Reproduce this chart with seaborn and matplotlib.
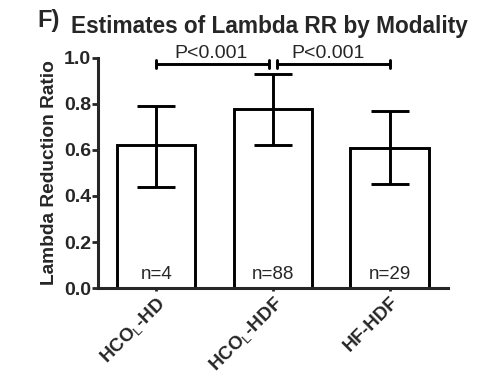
import matplotlib
matplotlib.use("Agg")
import matplotlib.pyplot as plt
import seaborn as sns
import pandas as pd

categories = [r"HCO$_{\mathrm{L}}$-HD", r"HCO$_{\mathrm{L}}$-HDF", "HF-HDF"]
means = [0.62, 0.78, 0.61]
err_low = [0.44, 0.62, 0.45]
err_high = [0.79, 0.93, 0.77]
n_labels = ["n=4", "n=88", "n=29"]
sig_pairs = [(0, 1), (1, 2)]
sig_texts = ["P<0.001", "P<0.001"]
yticks = [0.0, 0.2, 0.4, 0.6, 0.8, 1.0]

sns.set_style("ticks")
plt.rcParams["font.family"] = ["Liberation Sans", "DejaVu Sans"]
plt.rcParams["mathtext.fontset"] = "custom"
plt.rcParams["mathtext.rm"] = "Liberation Sans"

df = pd.DataFrame({"cat": categories, "val": means})

fig = plt.figure(figsize=(4.81, 3.81), dpi=100)
ax = fig.add_axes([0.204, 0.244, 0.727, 0.604])

sns.barplot(data=df, x="cat", y="val", ax=ax, color="white", edgecolor="black",
            linewidth=2.1, width=0.67, errorbar=None)

xs = list(range(len(categories)))
yerr = [[m - l for m, l in zip(means, err_low)], [h - m for m, h in zip(means, err_high)]]
ax.errorbar(xs, means, yerr=yerr, fmt="none", ecolor="black", elinewidth=2.1,
            capsize=13.5, capthick=2.1, zorder=5)

for x, t in zip(xs, n_labels):
    ax.text(x, 0.038, t, ha="center", va="baseline", fontsize=13.5)

bary = 0.975
gap = 0.035
for (a, b), t in zip(sig_pairs, sig_texts):
    x0 = a + (gap if a == 1 else 0)
    x1 = b - (gap if b == 1 else 0)
    ax.plot([x0, x1], [bary, bary], color="black", lw=2.1, clip_on=False,
            solid_capstyle="butt")
    for xx in (x0, x1):
        ax.plot([xx, xx], [bary - 0.018, bary + 0.018], color="black", lw=2.1, clip_on=False)
    ax.text((a + b) / 2 - 0.03, 1.0, t, ha="center", va="baseline", fontsize=14)

ax.set_xlim(-0.5, 2.5)
ax.set_ylim(0, 1.0)
ax.set_yticks(yticks)
ax.set_yticklabels([f"{v:.1f}" for v in yticks], fontsize=14, fontweight="bold")
ax.set_xticks(xs)
ax.set_xticklabels(categories, rotation=45, ha="right", rotation_mode="anchor",
                   fontsize=13.5, fontweight="bold")
ax.set_xlabel("")
ax.set_ylabel("Lambda Reduction Ratio", fontsize=13.8, fontweight="bold", labelpad=4)
sns.despine(ax=ax)
for s in ["left", "bottom"]:
    ax.spines[s].set_linewidth(2.2)
ax.tick_params(axis="y", width=2.0, length=4, pad=1)
ax.tick_params(axis="x", width=2.0, length=2, pad=2)

fig.text(0.56, 0.93, "Estimates of Lambda RR by Modality", ha="center", va="center",
         fontsize=16.3, fontweight="bold")
fig.text(0.078, 0.947, "F)", ha="left", va="center", fontsize=17, fontweight="bold")

fig.savefig("out.png", dpi=100)
